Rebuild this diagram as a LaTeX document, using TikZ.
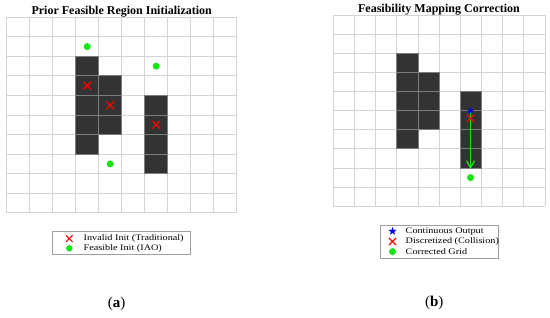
\documentclass[tikz,border=0pt]{standalone}
\usepackage{fontspec}
\setmainfont{Liberation Serif}
\newfontfamily\legfont[FakeStretch=1.2]{Liberation Serif}
\usetikzlibrary{shapes.geometric,shapes.misc,arrows.meta}
\definecolor{lime}{RGB}{20,230,20}
\definecolor{gridc}{RGB}{212,212,212}
\definecolor{obstc}{RGB}{51,51,51}
\definecolor{obstline}{RGB}{125,125,125}
\begin{document}
\begin{tikzpicture}[x=1pt,y=-1pt,
  gridline/.style={draw=gridc, line width=0.9pt},
  obst/.style={fill=obstc, draw=obstline, line width=0.9pt},
  redx/.style={cross out, draw=red, line width=1.3pt, minimum size=6.5pt, inner sep=0pt},
  gdot/.style={circle, fill=lime, inner sep=0pt, minimum size=7pt},
  bstar/.style={star, star points=5, star point ratio=2.4, fill=blue, inner sep=0pt, minimum size=7.5pt},
  ttl/.style={font=\bfseries\fontsize{12}{14}\selectfont, inner sep=0pt},
  leg/.style={font=\legfont\fontsize{8.5}{10}\selectfont, anchor=west, inner sep=0pt},
  legbox/.style={draw=gray!75, line width=0.7pt, fill=white, inner sep=0pt},
  panlab/.style={font=\fontsize{15}{17}\selectfont, inner sep=0pt},
  garrow/.style={draw=lime, line width=1.3pt, -{Straight Barb[length=7pt,width=8pt,line width=1.3pt]}}]
\useasboundingbox[fill=white] (0,0) rectangle (550,317);

% ---------------- panel (a) ----------------
\foreach \i in {0,...,10} {
  \draw[gridline] ({6.7+23*\i},17.3) -- ({6.7+23*\i},212.7);
  \draw[gridline] (6.7,{17.3+19.54*\i}) -- (236.7,{17.3+19.54*\i});
}
\foreach \c/\r in {3/2,3/3,3/4,3/5,3/6,4/3,4/4,4/5,6/4,6/5,6/6,6/7}
  \draw[obst] ({6.7+23*\c},{17.3+19.54*\r}) rectangle ++(23,19.54);

\node[ttl] (ta) at (121.7,11.5) {Prior Feasible Region Initialization};

\node[gdot] (ga1) at ({6.7+23*3.5},{17.3+19.54*1.5}) {};
\node[gdot] (ga2) at ({6.7+23*6.5},{17.3+19.54*2.5}) {};
\node[gdot] (ga3) at ({6.7+23*4.5},{17.3+19.54*7.5}) {};
\node[redx] (xa1) at ({6.7+23*3.5},{17.3+19.54*3.5}) {};
\node[redx] (xa2) at ({6.7+23*4.5},{17.3+19.54*4.5}) {};
\node[redx] (xa3) at ({6.7+23*6.5},{17.3+19.54*5.5}) {};

% legend (a)
\node[legbox, minimum width=137.3pt, minimum height=22.6pt] (lga) at (121.35,243) {};
\node[redx, minimum size=5.5pt, line width=1.1pt] (lax) at (69.3,238.6) {};
\node[gdot, minimum size=6.5pt] (lad) at (69.3,248.3) {};
\node[leg] (lat1) at (83.5,238.6) {Invalid Init (Traditional)};
\node[leg] (lat2) at (83.5,248.3) {Feasible Init (IAO)};

\node[panlab] (la) at (116.7,303.7) {(\textbf{a})};

% ---------------- panel (b) ----------------
\foreach \i in {0,...,10} {
  \draw[gridline] ({333.3+21.17*\i},15) -- ({333.3+21.17*\i},206.3);
  \draw[gridline] (333.3,{15+19.13*\i}) -- (545,{15+19.13*\i});
}
\foreach \c/\r in {3/2,3/3,3/4,3/5,3/6,4/3,4/4,4/5,6/4,6/5,6/6,6/7}
  \draw[obst] ({333.3+21.17*\c},{15+19.13*\r}) rectangle ++(21.17,19.13);

\node[ttl] (tb) at (439,9.8) {Feasibility Mapping Correction};

\node[bstar] (bs) at (470.5,111) {};
\coordinate (tip) at (470.5,169);
\draw[garrow] (bs) -- (tip);
\node[redx, minimum size=6pt] (bx) at (470.5,118.3) {};
\node[gdot] (bd) at (470.5,177.6) {};

% legend (b)
\node[legbox, minimum width=118pt, minimum height=33pt] (lgb) at (439.5,241.5) {};
\node[bstar, minimum size=8.5pt] (lbs) at (392.5,231.3) {};
\node[redx, minimum size=6pt, line width=1.1pt] (lbx) at (392.5,241.5) {};
\node[gdot, minimum size=7pt] (lbd) at (392.5,251.6) {};
\node[leg] (lbt1) at (405.5,231.3) {Continuous Output};
\node[leg] (lbt2) at (405.5,241.5) {Discretized (Collision)};
\node[leg] (lbt3) at (405.5,251.6) {Corrected Grid};

\node[panlab] (lb) at (434.3,303) {(\textbf{b})};
\end{tikzpicture}
\end{document}
